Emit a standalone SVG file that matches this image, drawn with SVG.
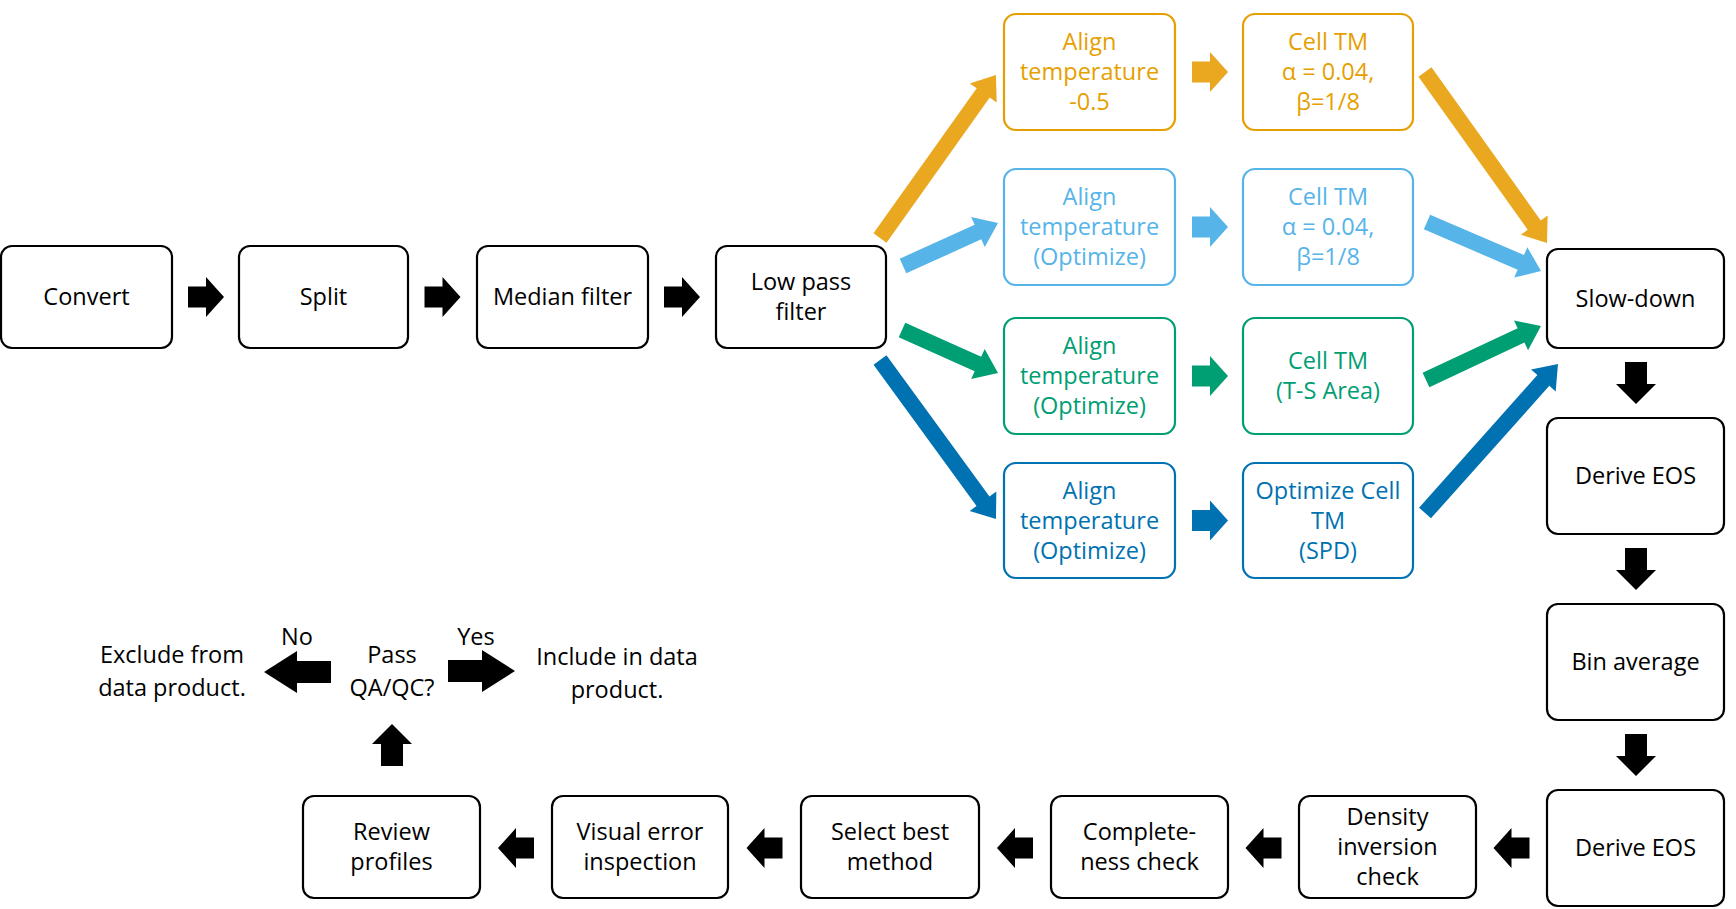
<svg xmlns="http://www.w3.org/2000/svg" xmlns:xlink="http://www.w3.org/1999/xlink" width="1736" height="909" viewBox="0 0 1736 909">
<style>
.box{fill:#fff;stroke:#000;stroke-width:2.2}
.cb{fill:#fff;stroke-width:2.2}
text{font-family:"Open Sans","Liberation Sans",sans-serif;font-size:23.5px;text-anchor:middle;fill:#000}
.o{stroke:#E69F00}.ot{fill:#E69F00}.oa{fill:#E9A820}
.l{stroke:#56B4E9}.lt{fill:#56B4E9}
.g{stroke:#009E73}.gt{fill:#009E73}
.d{stroke:#0072B2}.dt{fill:#0072B2}
.k{fill:#000}
</style>
<defs>
<path id="sa" d="M0,-10.5 H18 V-20 L36,0 L18,20 V10.5 H0 Z"/>
<path id="da" d="M0,-11 H22 V-20 L42,0 L22,20 V11 H0 Z"/>
<path id="qa" d="M0,-11 H34 V-21 L67,0 L34,21 V11 H0 Z"/>
</defs>
<rect width="1736" height="909" fill="#fff"/>

<g id="connectors">
<use href="#sa" class="k" transform="translate(188,297)"/>
<use href="#sa" class="k" transform="translate(424.5,297)"/>
<use href="#sa" class="k" transform="translate(664,297)"/>
<path class="oa" d="M0,-8 H178 V-16.5 L200,0 L178,16.5 V8 H0 Z" transform="translate(880,238) rotate(-54.56)"/>
<path class="lt" d="M0,-8 H82.3 V-16.5 L104.3,0 L82.3,16.5 V8 H0 Z" transform="translate(903,266) rotate(-24.35)"/>
<path class="gt" d="M0,-8 H83.2 V-16.5 L105.2,0 L83.2,16.5 V8 H0 Z" transform="translate(902,330) rotate(24.13)"/>
<path class="dt" d="M0,-8 H174.8 V-16.5 L196.8,0 L174.8,16.5 V8 H0 Z" transform="translate(880,360) rotate(53.89)"/>
<use href="#sa" class="oa" transform="translate(1192,72)"/>
<use href="#sa" class="lt" transform="translate(1192,227)"/>
<use href="#sa" class="gt" transform="translate(1192,376)"/>
<use href="#sa" class="dt" transform="translate(1192,520.5)"/>
<path class="oa" d="M0,-8 H188.1 V-16.5 L210.1,0 L188.1,16.5 V8 H0 Z" transform="translate(1425,72) rotate(54.5)"/>
<path class="lt" d="M0,-8 H102.1 V-16.5 L124.1,0 L102.1,16.5 V8 H0 Z" transform="translate(1427,222) rotate(23.26)"/>
<path class="gt" d="M0,-8 H105 V-16.5 L127,0 L105,16.5 V8 H0 Z" transform="translate(1426,380) rotate(-25.15)"/>
<path class="dt" d="M0,-8 H177.7 V-16.5 L199.7,0 L177.7,16.5 V8 H0 Z" transform="translate(1425,513) rotate(-48.24)"/>
<use href="#da" class="k" transform="translate(1636,362) rotate(90)"/>
<use href="#da" class="k" transform="translate(1636,548) rotate(90)"/>
<use href="#da" class="k" transform="translate(1636,734) rotate(90)"/>
<use href="#sa" class="k" transform="translate(1529.5,848) rotate(180)"/>
<use href="#sa" class="k" transform="translate(1281.5,848) rotate(180)"/>
<use href="#sa" class="k" transform="translate(1033,848) rotate(180)"/>
<use href="#sa" class="k" transform="translate(782.5,848) rotate(180)"/>
<use href="#sa" class="k" transform="translate(534,848) rotate(180)"/>
<use href="#da" class="k" transform="translate(392,766) rotate(-90)"/>
<use href="#qa" class="k" transform="translate(331,672) rotate(180)"/>
<use href="#qa" class="k" transform="translate(448,671)"/>
</g>

<g id="convert"><rect class="box" x="1" y="246" width="171" height="102" rx="11"/><text x="86.5" y="305">Convert</text></g>
<g id="split"><rect class="box" x="239" y="246" width="169" height="102" rx="11"/><text x="323.5" y="305">Split</text></g>
<g id="median"><rect class="box" x="477" y="246" width="171" height="102" rx="11"/><text x="562.5" y="305">Median filter</text></g>
<g id="lowpass"><rect class="box" x="716" y="246" width="170" height="102" rx="11"/><text x="801" y="290">Low pass</text><text x="801" y="320">filter</text></g>

<g id="align1"><rect class="cb o" x="1004" y="14" width="171" height="116" rx="12"/><text class="ot" x="1089.5" y="50">Align</text><text class="ot" x="1089.5" y="80">temperature</text><text class="ot" x="1089.5" y="110">-0.5</text></g>
<g id="cell1"><rect class="cb o" x="1243" y="14" width="170" height="116" rx="12"/><text class="ot" x="1328" y="50">Cell TM</text><text class="ot" x="1328" y="80">α = 0.04,</text><text class="ot" x="1328" y="110">β=1/8</text></g>

<g id="align2"><rect class="cb l" x="1004" y="169" width="171" height="116" rx="12"/><text class="lt" x="1089.5" y="205">Align</text><text class="lt" x="1089.5" y="235">temperature</text><text class="lt" x="1089.5" y="265">(Optimize)</text></g>
<g id="cell2"><rect class="cb l" x="1243" y="169" width="170" height="116" rx="12"/><text class="lt" x="1328" y="205">Cell TM</text><text class="lt" x="1328" y="235">α = 0.04,</text><text class="lt" x="1328" y="265">β=1/8</text></g>

<g id="align3"><rect class="cb g" x="1004" y="318" width="171" height="116" rx="12"/><text class="gt" x="1089.5" y="354">Align</text><text class="gt" x="1089.5" y="384">temperature</text><text class="gt" x="1089.5" y="414">(Optimize)</text></g>
<g id="cell3"><rect class="cb g" x="1243" y="318" width="170" height="116" rx="12"/><text class="gt" x="1328" y="369">Cell TM</text><text class="gt" x="1328" y="399">(T-S Area)</text></g>

<g id="align4"><rect class="cb d" x="1004" y="463" width="171" height="115" rx="12"/><text class="dt" x="1089.5" y="498.5">Align</text><text class="dt" x="1089.5" y="528.5">temperature</text><text class="dt" x="1089.5" y="558.5">(Optimize)</text></g>
<g id="cell4"><rect class="cb d" x="1243" y="463" width="170" height="115" rx="12"/><text class="dt" x="1328" y="498.5">Optimize Cell</text><text class="dt" x="1328" y="528.5">TM</text><text class="dt" x="1328" y="558.5">(SPD)</text></g>

<g id="slowdown"><rect class="box" x="1547" y="249" width="177" height="99" rx="11"/><text x="1635.5" y="306.5">Slow-down</text></g>
<g id="deriveeos1"><rect class="box" x="1547" y="418" width="177" height="116" rx="11"/><text x="1635.5" y="484">Derive EOS</text></g>
<g id="binavg"><rect class="box" x="1547" y="604" width="177" height="116" rx="11"/><text x="1635.5" y="670">Bin average</text></g>
<g id="deriveeos2"><rect class="box" x="1547" y="790" width="177" height="116" rx="11"/><text x="1635.5" y="856">Derive EOS</text></g>

<g id="density"><rect class="box" x="1299" y="796" width="177" height="102" rx="11"/><text x="1387.5" y="825">Density</text><text x="1387.5" y="855">inversion</text><text x="1387.5" y="885">check</text></g>
<g id="completeness"><rect class="box" x="1051" y="796" width="177" height="102" rx="11"/><text x="1139.5" y="840">Complete-</text><text x="1139.5" y="870">ness check</text></g>
<g id="selectbest"><rect class="box" x="801" y="796" width="178" height="102" rx="11"/><text x="890" y="840">Select best</text><text x="890" y="870">method</text></g>
<g id="visual"><rect class="box" x="552" y="796" width="176" height="102" rx="11"/><text x="640" y="840">Visual error</text><text x="640" y="870">inspection</text></g>
<g id="review"><rect class="box" x="303" y="796" width="177" height="102" rx="11"/><text x="391.5" y="840">Review</text><text x="391.5" y="870">profiles</text></g>

<g id="passqa"><text x="392" y="663">Pass</text><text x="392" y="696">QA/QC?</text></g>
<g id="no"><text x="297" y="645">No</text></g>
<g id="yes"><text x="476" y="645">Yes</text></g>
<g id="exclude"><text x="172" y="663">Exclude from</text><text x="172" y="696">data product.</text></g>
<g id="include"><text x="617" y="665">Include in data</text><text x="617" y="698">product.</text></g>
</svg>
